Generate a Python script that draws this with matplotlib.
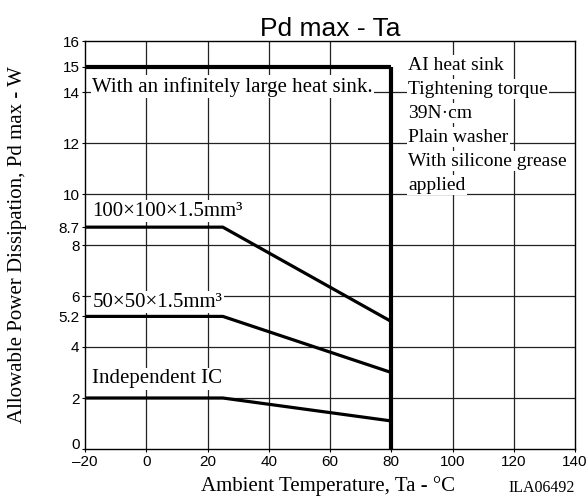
import matplotlib
matplotlib.use("Agg")
import matplotlib.pyplot as plt
from matplotlib.transforms import ScaledTranslation

# DATOS
ta_inf = [-20, 80]
pd_inf = [15, 15]

ta_curve = [-20, 25, 80]
pd_100 = [8.7, 8.7, 5.0]
pd_50 = [5.2, 5.2, 3.0]
pd_ic = [2.0, 2.0, 1.1]

x_ticks = [-20, 0, 20, 40, 60, 80, 100, 120, 140]
y_ticks = [0, 2, 4, 5.2, 6, 8, 8.7, 10, 12, 14, 15, 16]
y_tick_labels = ["0", "2", "4", "5.2", "6", "8", "8.7", "10", "12", "14", "15", "16"]
x_grid = [0, 20, 40, 60, 100, 120]
y_grid = [2, 4, 6, 8, 10, 12, 14]

notes = ["AI heat sink", "Tightening torque", "39N\u00b7cm", "Plain washer",
         "With silicone grease", "applied"]

sans = "Liberation Sans"
serif = "Liberation Serif"

fig = plt.figure(figsize=(5.88, 5.00), dpi=100)
ax = fig.add_axes([0.1446, 0.102, 0.8334, 0.816])

# rejilla
for x in x_grid:
    ax.axvline(x, color="#222222", lw=0.9, zorder=1)
for y in y_grid:
    ax.axhline(y, color="#222222", lw=0.9, zorder=1)

# curvas
ax.plot(ta_inf, pd_inf, color="black", lw=3.0, zorder=3, solid_capstyle="butt")
ax.plot([80, 80], [0, 15], color="black", lw=3.0, zorder=3, solid_capstyle="butt")
for pd in (pd_100, pd_50, pd_ic):
    ax.plot(ta_curve, pd, color="black", lw=2.3, zorder=3, solid_capstyle="butt")

ax.set_xlim(-20, 140)
ax.set_ylim(0, 16)
ax.set_xticks(x_ticks)
ax.set_xticklabels(["\u201320" if v < 0 else str(v) for v in x_ticks], family=sans, fontsize=11)
ax.set_yticks(y_ticks)
ax.set_yticklabels(y_tick_labels, family=sans, fontsize=11)
ax.tick_params(direction="out", length=2, width=0.8, pad=2)
for s in ax.spines.values():
    s.set_linewidth(1.0)

# subir un poco la etiqueta "0"
lbl0 = ax.get_yticklabels()[0]
lbl0.set_transform(lbl0.get_transform() + ScaledTranslation(0, 4 / 72, fig.dpi_scale_trans))

bbox = dict(facecolor="white", edgecolor="none", pad=1.0)
lab_size = 15
ax.text(-17.6, 14.2, "With an infinitely large heat sink.", family=serif, fontsize=lab_size,
        va="center", ha="left", bbox=bbox, zorder=2)
ax.text(-17.6, 9.33, "100\u00d7100\u00d71.5mm\u00b3", family=serif, fontsize=lab_size,
        va="center", ha="left", bbox=bbox, zorder=2)
ax.text(-17.6, 5.76, "50\u00d750\u00d71.5mm\u00b3", family=serif, fontsize=lab_size,
        va="center", ha="left", bbox=bbox, zorder=2)
ax.text(-17.6, 2.75, "Independent IC", family=serif, fontsize=lab_size,
        va="center", ha="left", bbox=bbox, zorder=2)

for i, line in enumerate(notes):
    ax.text(85.5, 15.05 - i * 0.94, line, family=serif, fontsize=14,
            va="center", ha="left", bbox=bbox, zorder=2)

ax.set_title("Pd max - Ta", family=sans, fontsize=19, pad=3)
ax.set_ylabel("Allowable Power Dissipation, Pd max - W", family=serif, fontsize=15)
ax.yaxis.set_label_coords(-0.118, 0.5)
ax.set_xlabel("Ambient Temperature, Ta - \u00b0C", family=serif, fontsize=15)
ax.xaxis.set_label_coords(0.496, -0.066)
fig.text(0.978, 0.025, "ILA06492", family=serif, fontsize=11.5, ha="right", va="center")

fig.savefig("out.png", dpi=100)
